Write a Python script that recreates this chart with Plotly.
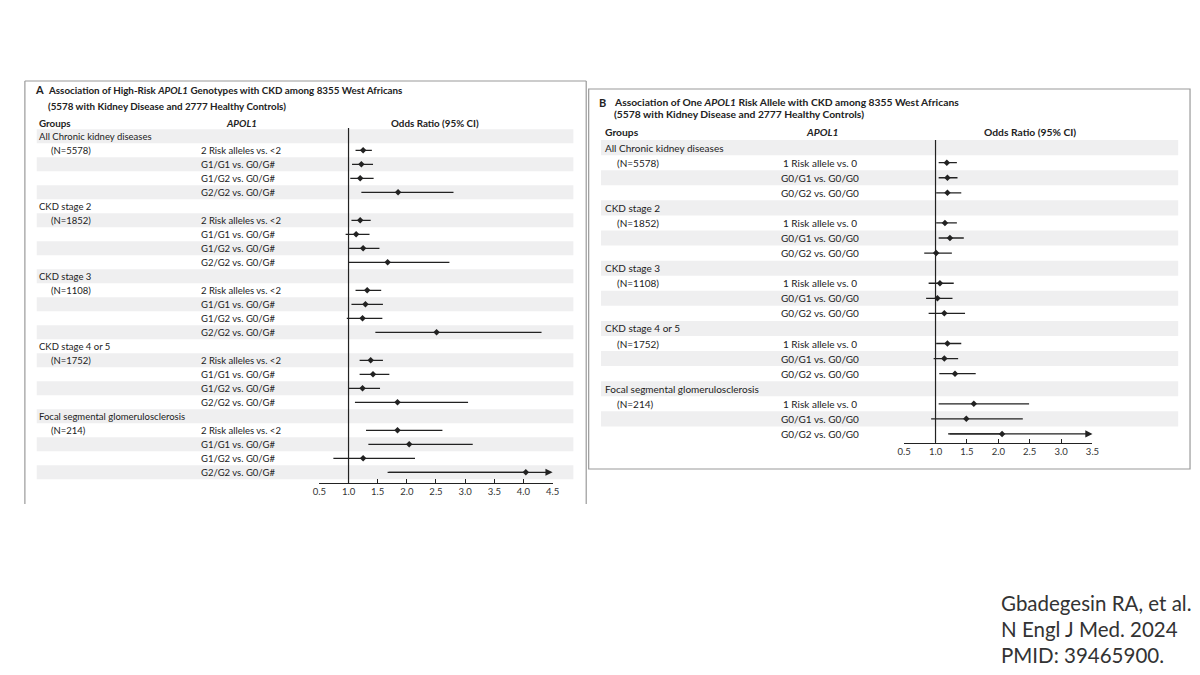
import plotly.graph_objects as go

# Page has an 8px body margin; the figure is placed so pixel coords match the 1200x675 window
OFF = 8
W, H = 1200 - OFF, 675 - 2 * OFF

# ---------------- data ----------------
groups = ["All Chronic kidney diseases", "CKD stage 2", "CKD stage 3",
          "CKD stage 4 or 5", "Focal segmental glomerulosclerosis"]
group_n = ["(N=5578)", "(N=1852)", "(N=1108)", "(N=1752)", "(N=214)"]

# Panel A: high-risk genotypes
comp_a = ["2 Risk alleles vs. <2", "G1/G1 vs. G0/G#", "G1/G2 vs. G0/G#", "G2/G2 vs. G0/G#"]
or_a = [1.25, 1.22, 1.20, 1.85,
        1.20, 1.13, 1.25, 1.67,
        1.32, 1.29, 1.24, 2.51,
        1.38, 1.42, 1.24, 1.84,
        1.84, 2.04, 1.25, 4.04]
lo_a = [1.12, 1.06, 1.03, 1.22,
        1.05, 0.95, 1.01, 1.00,
        1.12, 1.05, 0.97, 1.46,
        1.19, 1.19, 1.00, 1.11,
        1.30, 1.34, 0.74, 1.67]
hi_a = [1.40, 1.42, 1.43, 2.80,
        1.38, 1.36, 1.53, 2.73,
        1.56, 1.59, 1.58, 4.31,
        1.59, 1.70, 1.54, 3.05,
        2.61, 3.13, 2.14, None]   # None = upper limit beyond axis (arrow)
ticks_a = [0.5, 1.0, 1.5, 2.0, 2.5, 3.0, 3.5, 4.0, 4.5]
ticktext_a = ["0.5", "1.0", "1.5", "2.0", "2.5", "3.0", "3.5", "4.0", "4.5"]

# Panel B: one risk allele
comp_b = ["1 Risk allele vs. 0", "G0/G1 vs. G0/G0", "G0/G2 vs. G0/G0"]
or_b = [1.18, 1.19, 1.19,
        1.15, 1.23, 1.01,
        1.07, 1.03, 1.14,
        1.19, 1.14, 1.31,
        1.61, 1.49, 2.06]
lo_b = [1.05, 1.05, 1.01,
        1.01, 1.05, 0.82,
        0.89, 0.85, 0.89,
        1.01, 0.97, 1.06,
        1.05, 0.93, 1.20]
hi_b = [1.34, 1.35, 1.41,
        1.34, 1.45, 1.26,
        1.29, 1.27, 1.47,
        1.41, 1.36, 1.64,
        2.49, 2.39, None]
ticks_b = [0.5, 1.0, 1.5, 2.0, 2.5, 3.0, 3.5]
ticktext_b = ["0.5", "1.0", "1.5", "2.0", "2.5", "3.0", "3.5"]

citation = ["Gbadegesin RA, et al.", "N Engl J Med. 2024", "PMID: 39465900."]

# ---------------- helpers ----------------
FONT = "Lato"
TXT = "#222222"
SHADE = "#efeff0"
FRAME = "#9a9a9a"


def xp(px):
    return (px - OFF) / W


def yp(py):
    return 1 - (py - OFF) / H


fig = go.Figure()
shapes = []
annotations = []


def panel(comp, ors, los, his, xmax, xaxis, yaxis, geom):
    n_c = len(comp)
    rows_per = n_c + 1
    ys, xs, ep, em = [], [], [], []
    for g, gname in enumerate(groups):
        r0 = g * rows_per + 1
        annotations.append(dict(x=xp(geom["gx"]), y=r0, xref="paper", yref=yaxis,
                                text=gname, showarrow=False, xanchor="left",
                                font=dict(size=geom["fs"], color=TXT, family=FONT)))
        annotations.append(dict(x=xp(geom["nx"]), y=r0 + 1, xref="paper", yref=yaxis,
                                text=group_n[g], showarrow=False, xanchor="left",
                                font=dict(size=geom["fs"], color=TXT, family=FONT)))
        for c in range(n_c):
            k = g * n_c + c
            r = r0 + 1 + c
            annotations.append(dict(x=xp(geom["cx"]), y=r, xref="paper", yref=yaxis,
                                    text=comp[c], showarrow=False, xanchor=geom["canchor"],
                                    font=dict(size=geom["fs"], color=TXT, family=FONT)))
            ys.append(r)
            xs.append(ors[k])
            em.append(ors[k] - los[k])
            if his[k] is None:
                ep.append(0)
                annotations.append(dict(x=xmax, y=r, ax=los[k], ay=r, xref=xaxis, yref=yaxis,
                                        axref=xaxis, ayref=yaxis, text="", showarrow=True,
                                        arrowhead=2, arrowsize=1.1, arrowwidth=1.3,
                                        arrowcolor=TXT, standoff=0, startstandoff=0))
            else:
                ep.append(his[k] - ors[k])
    n_rows = len(groups) * rows_per
    for r in range(1, n_rows + 1, 2):
        shapes.append(dict(type="rect", xref="paper", yref=yaxis,
                           x0=xp(geom["sx0"]), x1=xp(geom["sx1"]), y0=r - 0.5, y1=r + 0.5,
                           fillcolor=SHADE, line=dict(width=0), layer="below"))
    # reference line at OR = 1
    shapes.append(dict(type="line", xref=xaxis, yref=yaxis + " domain", x0=1, x1=1, y0=0, y1=1,
                       line=dict(color=TXT, width=1.2)))
    fig.add_trace(go.Scatter(
        x=xs, y=ys, mode="markers", xaxis=xaxis, yaxis=yaxis,
        marker=dict(symbol="diamond", size=5, color=TXT),
        error_x=dict(type="data", symmetric=False, array=ep, arrayminus=em,
                     width=0, thickness=1.3, color=TXT),
        showlegend=False, hoverinfo="skip"))


geomA = dict(gx=30, nx=42, cx=194, canchor="left", sx0=30, sx1=573, fs=9.5)
geomB = dict(gx=603, nx=615, cx=823, canchor="center", sx0=601, sx1=1185, fs=10)

panel(comp_a, or_a, lo_a, hi_a, ticks_a[-1], "x", "y", geomA)
panel(comp_b, or_b, lo_b, hi_b, ticks_b[-1], "x2", "y2", geomB)

# Row geometry (pixel layout)
a_r1, a_step, a_top, a_axis = 136.3, 14.0, 128, 483
b_r1, b_step, b_top, b_axis = 147.6, 15.07, 140, 442.5


def rng(r1, step, top, axis):
    return [(axis - r1) / step + 1, (top - r1) / step + 1]


# Titles & headers
def txt(x, y, s, size, anchor="left", color=TXT, family=FONT):
    annotations.append(dict(x=xp(x), y=yp(y), xref="paper", yref="paper", text=s,
                            showarrow=False, xanchor=anchor, yanchor="middle",
                            font=dict(size=size, color=color, family=family)))


txt(26, 90, "<b>A</b>", 11)
txt(39, 90, "<b>Association of High-Risk <i>APOL1</i> Genotypes with CKD among 8355 West Africans</b>", 9.8)
txt(39, 106, "<b>(5578 with Kidney Disease and 2777 Healthy Controls)</b>", 9.8)
txt(30, 123, "<b>Groups</b>", 9.8)
txt(237, 123, "<b><i>APOL1</i></b>", 9.8, anchor="center")
txt(433, 123, "<b>Odds Ratio (95% CI)</b>", 9.8, anchor="center")

txt(597, 102, "<b>B</b>", 11)
txt(612, 102, "<b>Association of One <i>APOL1</i> Risk Allele with CKD among 8355 West Africans</b>", 10.3)
txt(612, 114, "<b>(5578 with Kidney Disease and 2777 Healthy Controls)</b>", 10.3)
txt(603, 132, "<b>Groups</b>", 10.3)
txt(825, 132, "<b><i>APOL1</i></b>", 10.3, anchor="center")
txt(1035, 132, "<b>Odds Ratio (95% CI)</b>", 10.3, anchor="center")

for i, line in enumerate(citation):
    txt(1004, 603 + i * 26, line, 20.5, color="#333333")

# Panel frames
fl = dict(color=FRAME, width=1.2)
shapes += [
    dict(type="line", xref="paper", yref="paper", x0=xp(18), x1=xp(586), y0=yp(81), y1=yp(81), line=fl),
    dict(type="line", xref="paper", yref="paper", x0=xp(18), x1=xp(18), y0=yp(81), y1=yp(504), line=fl),
    dict(type="line", xref="paper", yref="paper", x0=xp(586), x1=xp(586), y0=yp(81), y1=yp(504), line=fl),
    dict(type="rect", xref="paper", yref="paper", x0=xp(588.5), x1=xp(1197), y0=yp(89), y1=yp(469),
         line=fl, fillcolor="rgba(0,0,0,0)"),
]

axis_common = dict(showgrid=False, zeroline=False, showline=True, linecolor=TXT, linewidth=1,
                   ticks="inside", ticklen=4, tickwidth=1, tickcolor=TXT,
                   tickfont=dict(size=9.5, color="#333333", family=FONT), fixedrange=True)
yhidden = dict(visible=False, showgrid=False, zeroline=False, fixedrange=True)

fig.update_layout(
    width=W, height=H, margin=dict(l=0, r=0, t=0, b=0),
    paper_bgcolor="white", plot_bgcolor="rgba(0,0,0,0)",
    xaxis=dict(domain=[xp(316), xp(552)], range=[ticks_a[0], ticks_a[-1]], anchor="y",
               tickvals=ticks_a, ticktext=ticktext_a, **axis_common),
    yaxis=dict(domain=[yp(a_axis), yp(a_top)], range=rng(a_r1, a_step, a_top, a_axis),
               anchor="x", **yhidden),
    xaxis2=dict(domain=[xp(907.7), xp(1098.3)], range=[ticks_b[0], ticks_b[-1]], anchor="y2",
                tickvals=ticks_b, ticktext=ticktext_b, **axis_common),
    yaxis2=dict(domain=[yp(b_axis), yp(b_top)], range=rng(b_r1, b_step, b_top, b_axis),
                anchor="x2", **yhidden),
    shapes=shapes, annotations=annotations,
    font=dict(family=FONT, color=TXT),
)

fig.write_html("out.html")
